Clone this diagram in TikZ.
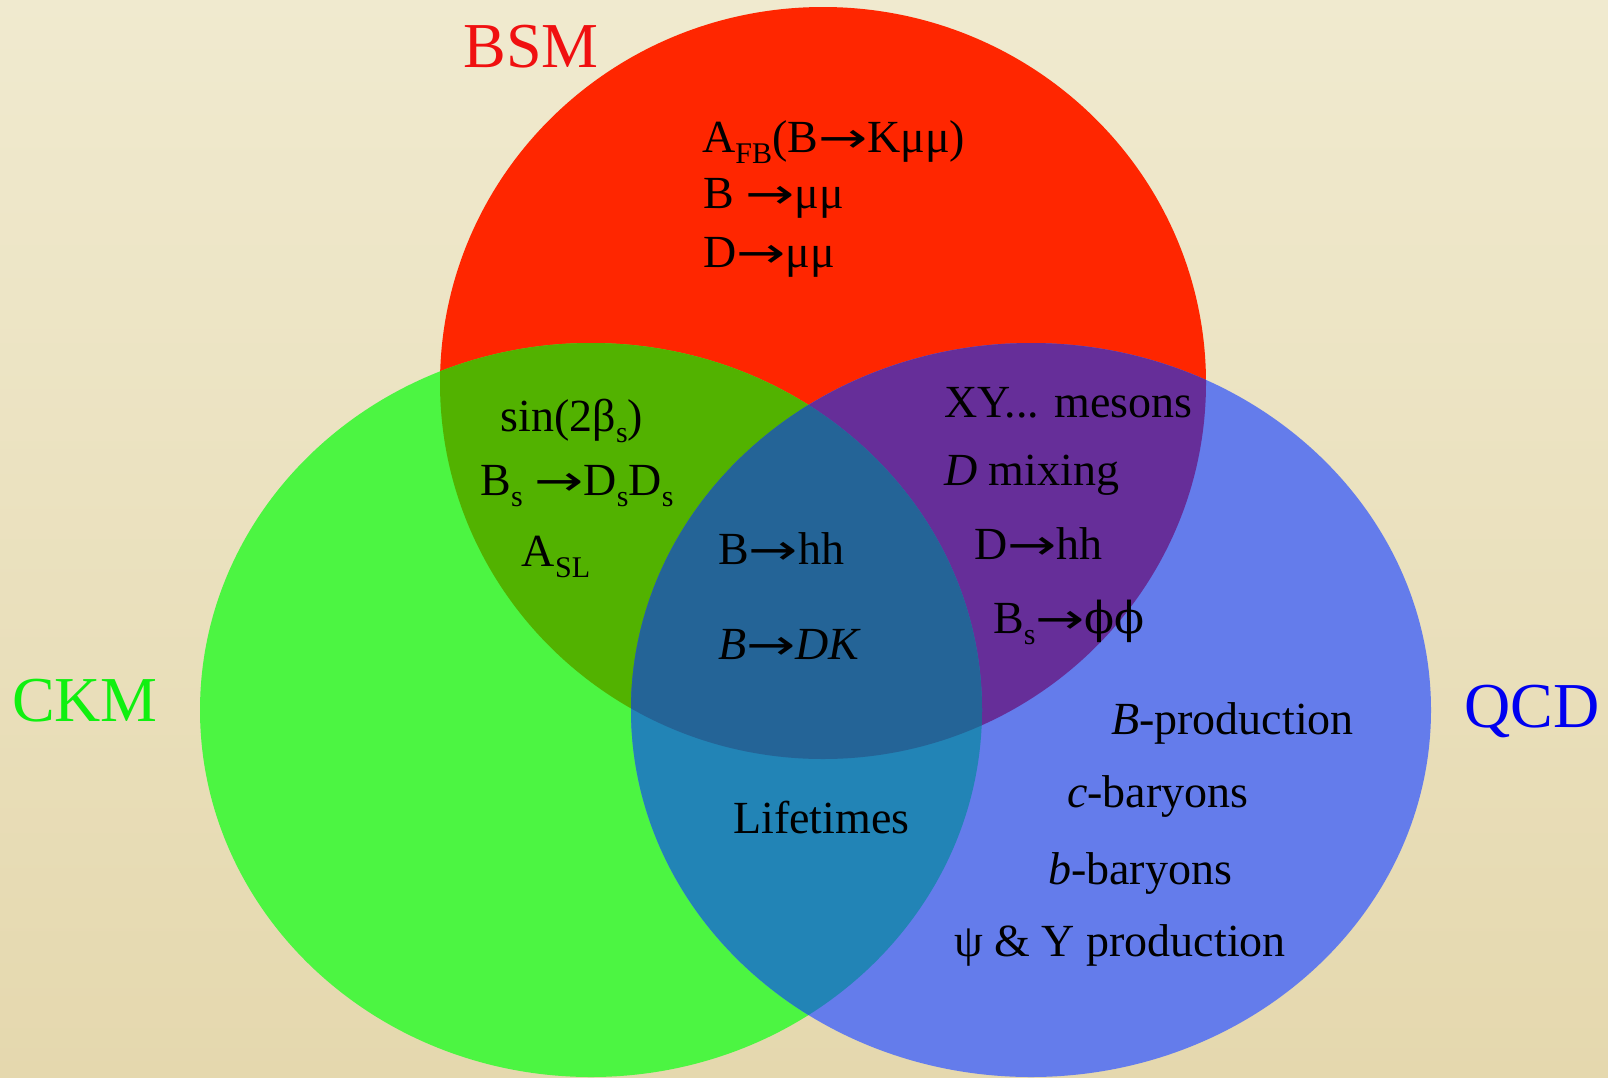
\documentclass[tikz,border=0pt]{standalone}
\usepackage{fontspec}
\usepackage{graphicx}
\setmainfont{Liberation Serif}
\newfontfamily\arrfont{DejaVu Sans}
\newfontfamily\phifont{DejaVu Serif}
\definecolor{bgtop}{HTML}{F0EACF}
\definecolor{bgbot}{HTML}{E5D8AE}
\definecolor{cred}{HTML}{FF2600}
\definecolor{cgreen}{HTML}{4CF542}
\definecolor{cblue}{HTML}{647CEB}
\definecolor{colive}{HTML}{52B200}
\definecolor{cpurple}{HTML}{662E99}
\definecolor{cteal}{HTML}{2284B6}
\definecolor{ccenter}{HTML}{246497}
\definecolor{tred}{HTML}{F01010}
\definecolor{tgreen}{HTML}{10F010}
\definecolor{tblue}{HTML}{0000F0}
\newcommand{\lsb}[1]{\raisebox{-11pt}{\fontsize{30}{30}\selectfont #1}}
\newcommand{\arr}{\scalebox{1.4}[1]{\arrfont\fontsize{42}{42}\selectfont →}}
\newcommand{\vphi}{{\phifont\fontsize{44}{44}\selectfont ϕ}}
\begin{document}
\begin{tikzpicture}[x=1pt,y=-1pt,
  lbl/.style={font=\fontsize{46}{50}\selectfont, inner sep=0pt, text=black},
  ttl/.style={font=\fontsize{64}{66}\selectfont, inner sep=0pt}]
\useasboundingbox (0,0) rectangle (1608,1077);
\shade[top color=bgtop,bottom color=bgbot] (0,0) rectangle (1608,1077);
% circles
\fill[cred]   (823,383) ellipse [x radius=383pt, y radius=376pt];
\fill[cgreen] (591,710) ellipse [x radius=391pt, y radius=367pt];
\fill[cblue]  (1031,710) ellipse [x radius=400pt, y radius=367pt];
\begin{scope}
  \clip (823,383) ellipse [x radius=383pt, y radius=376pt];
  \fill[colive] (591,710) ellipse [x radius=391pt, y radius=367pt];
\end{scope}
\begin{scope}
  \clip (823,383) ellipse [x radius=383pt, y radius=376pt];
  \fill[cpurple] (1031,710) ellipse [x radius=400pt, y radius=367pt];
\end{scope}
\begin{scope}
  \clip (591,710) ellipse [x radius=391pt, y radius=367pt];
  \fill[cteal] (1031,710) ellipse [x radius=400pt, y radius=367pt];
\end{scope}
\begin{scope}
  \clip (823,383) ellipse [x radius=383pt, y radius=376pt];
  \clip (591,710) ellipse [x radius=391pt, y radius=367pt];
  \fill[ccenter] (1031,710) ellipse [x radius=400pt, y radius=367pt];
\end{scope}
% titles
\node[ttl,text=tred,anchor=base] (bsm) at (531,67) {BSM};
\node[ttl,text=tgreen,anchor=base] (ckm) at (85,721) {CKM};
\node[ttl,text=tblue,anchor=base] (qcd) at (1532,727) {QCD};
% BSM
\node[lbl,anchor=base west] (afb) at (702,152) {A\lsb{FB}(B\arr Kμμ)};
\node[lbl,anchor=base west] (bmm) at (703,208) {B \arr μμ};
\node[lbl,anchor=base west] (dmm) at (703,267) {D\arr μμ};
% BSM & CKM
\node[lbl,anchor=base] (sin) at (572,431) {sin(2β\lsb{s})};
\node[lbl,anchor=base] (bsdd) at (577,495) {B\lsb{s} \arr D\lsb{s}D\lsb{s}};
\node[lbl,anchor=base] (asl) at (556,566) {A\lsb{SL}};
% centre
\node[lbl,anchor=base west] (bhh) at (718,564) {B\arr hh};
\node[lbl,anchor=base west] (bdk) at (718,659) {\textit{B}\arr\textit{DK}};
% BSM & QCD
\node[lbl,anchor=base west] (xy) at (944,417) {XY... mesons};
\node[lbl,anchor=base west] (dmix) at (944,485) {\textit{D} mixing};
\node[lbl,anchor=base west] (dhh) at (974,559) {D\arr hh};
\node[lbl,anchor=base west] (bsff) at (993,633) {B\lsb{s}\arr\vphi\vphi};
% CKM & QCD
\node[lbl,anchor=base west] (life) at (733,833) {Lifetimes};
% QCD
\node[lbl,anchor=base west] (bprod) at (1111,734) {\textit{B}-production};
\node[lbl,anchor=base west] (cbar) at (1067,807) {\textit{c}-baryons};
\node[lbl,anchor=base west] (bbar) at (1048,884) {\textit{b}-baryons};
\node[lbl,anchor=base west] (psi) at (954,956) {ψ \& Υ production};
\end{tikzpicture}
\end{document}
